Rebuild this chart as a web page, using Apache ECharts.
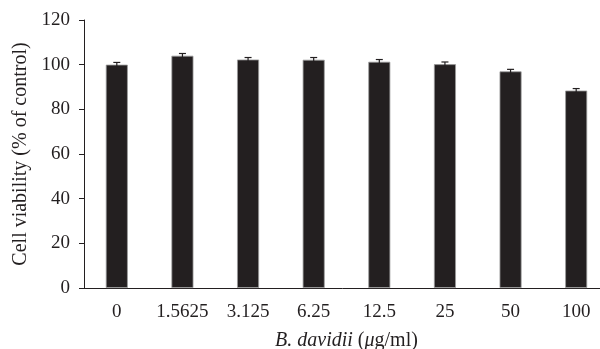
<!DOCTYPE html>
<html>
<head>
<meta charset="utf-8">
<script src="https://cdn.jsdelivr.net/npm/echarts@6/dist/echarts.min.js"></script>
<style>
  html, body { margin: 0; padding: 0; background: #fff; }
  #main { width: 600px; height: 349px; }
</style>
</head>
<body>
<div id="main"></div>
<script>
var concentrations = ['0', '1.5625', '3.125', '6.25', '12.5', '25', '50', '100'];
var viability = [100.0, 104.0, 102.3, 102.2, 101.3, 100.2, 97.0, 88.4];
var errors = [1.0, 1.0, 0.9, 1.0, 1.0, 1.0, 0.9, 0.9];
var yTicks = [0, 20, 40, 60, 80, 100, 120];

var ink = '#231f20';
var font = '"Liberation Serif", "DejaVu Serif", serif';

var errData = viability.map(function (v, i) {
  return [i, v - errors[i], v + errors[i]];
});

var myChart = echarts.init(document.getElementById('main'));
myChart.setOption({
  animation: false,
  textStyle: { fontFamily: font },
  grid: { left: 84, top: 20, width: 525, height: 268, outerBoundsMode: 'none', containLabel: false },
  xAxis: {
    type: 'category',
    data: concentrations,
    axisLine: { lineStyle: { color: ink, width: 1 } },
    axisTick: { length: 5, interval: 0, lineStyle: { color: ink } },
    axisLabel: { color: ink, fontSize: 19, fontFamily: font, margin: 15, interval: 0, hideOverlap: false },
    name: '{i|B. davidii} ({i|\u03bc}g/ml)',
    nameLocation: 'middle',
    nameGap: 43,
    nameTextStyle: {
      color: ink, fontSize: 20, fontFamily: font,
      rich: { i: { fontStyle: 'italic', color: ink, fontSize: 20, fontFamily: font } }
    }
  },
  yAxis: {
    type: 'value',
    min: 0,
    max: 120,
    interval: 20,
    axisLine: { show: true, lineStyle: { color: ink, width: 1 } },
    axisTick: { show: true, length: 5, lineStyle: { color: ink } },
    splitLine: { show: false },
    axisLabel: {
      color: ink, fontSize: 19, fontFamily: font, margin: 14,
      formatter: function (v) { return yTicks.indexOf(v) >= 0 ? String(v) : ''; }
    },
    name: 'Cell viability (% of control)',
    nameLocation: 'middle',
    nameGap: 53,
    nameTextStyle: { color: ink, fontSize: 20, fontFamily: font }
  },
  series: [
    {
      type: 'bar',
      data: viability,
      barWidth: 22,
      itemStyle: { color: ink, borderColor: '#9a9a9a', borderWidth: 0.8 }
    },
    {
      type: 'custom',
      z: 3,
      data: errData,
      renderItem: function (params, api) {
        var x = api.value(0);
        var lo = api.coord([x, api.value(1)]);
        var hi = api.coord([x, api.value(2)]);
        var cap = 3.5;
        var s = { stroke: ink, lineWidth: 1.2 };
        return {
          type: 'group',
          children: [
            { type: 'line', shape: { x1: hi[0], y1: hi[1], x2: lo[0], y2: lo[1] }, style: s },
            { type: 'line', shape: { x1: hi[0] - cap, y1: hi[1], x2: hi[0] + cap, y2: hi[1] }, style: s }
          ]
        };
      }
    }
  ]
});
</script>
</body>
</html>
